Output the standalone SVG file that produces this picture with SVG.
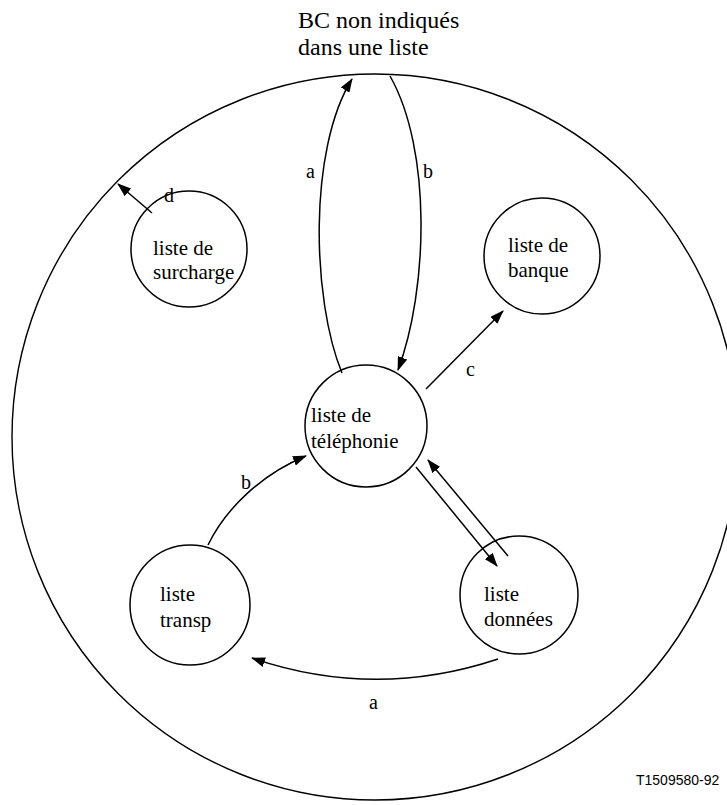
<svg xmlns="http://www.w3.org/2000/svg" width="727" height="805" viewBox="0 0 727 805">
<defs>
<marker id="ah" markerWidth="14" markerHeight="10" refX="13" refY="5" orient="auto" markerUnits="userSpaceOnUse">
<path d="M0,0 L14,5 L0,10 z" fill="#000"/>
</marker>
<style>
.n{fill:none;stroke:#000;stroke-width:1.4}
.c{fill:none;stroke:#000;stroke-width:1.5}
.e{fill:none;stroke:#000;stroke-width:1.5;marker-end:url(#ah)}
text{font-family:"Liberation Serif","Times New Roman",serif;font-size:21px;fill:#000}
.t{font-size:24px}
.lab{font-size:20px}
.ref{font-family:"Liberation Sans",Arial,sans-serif;font-size:14px}
</style>
</defs>
<rect width="727" height="805" fill="#fff"/>
<g id="title">
<text class="t" x="298" y="28">BC non indiqués</text>
<text class="t" x="298" y="55">dans une liste</text>
</g>
<g id="outer"><circle class="n" cx="375" cy="437" r="363"/></g>
<g id="surcharge"><circle class="c" cx="189" cy="249" r="58"/><text x="153" y="255">liste de</text><text x="153" y="279">surcharge</text></g>
<g id="banque"><circle class="c" cx="542" cy="256" r="58"/><text x="508" y="252">liste de</text><text x="508" y="277">banque</text></g>
<g id="telephonie"><circle class="c" cx="366" cy="426" r="61"/><text x="311" y="422">liste de</text><text x="311" y="448">téléphonie</text></g>
<g id="transp"><circle class="c" cx="190" cy="605" r="60"/><text x="160" y="601">liste</text><text x="160" y="627">transp</text></g>
<g id="donnees"><circle class="c" cx="519" cy="595" r="59"/><text x="484" y="601">liste</text><text x="484" y="626">données</text></g>
<g id="connectors">
<path class="e" d="M342,373 C312,300 308,150 352,79"/>
<path class="e" d="M390,76 C432,150 428,290 398,370"/>
<path class="e" d="M426,389 L503,311"/>
<path class="e" d="M152,213 L118,184"/>
<path class="e" d="M416,467 L497,566"/>
<path class="e" d="M508,556 L428,460"/>
<path class="e" d="M208,545 C226,508 262,474 306,456"/>
<path class="e" d="M498,659 Q375,700 252,658"/>
</g>
<g id="labels">
<text class="lab" x="306" y="178">a</text>
<text class="lab" x="423" y="178">b</text>
<text class="lab" x="466" y="376">c</text>
<text class="lab" x="164" y="202">d</text>
<text class="lab" x="241" y="489">b</text>
<text class="lab" x="369" y="709">a</text>
</g>
<text class="ref" x="636" y="785">T1509580-92</text>
</svg>
